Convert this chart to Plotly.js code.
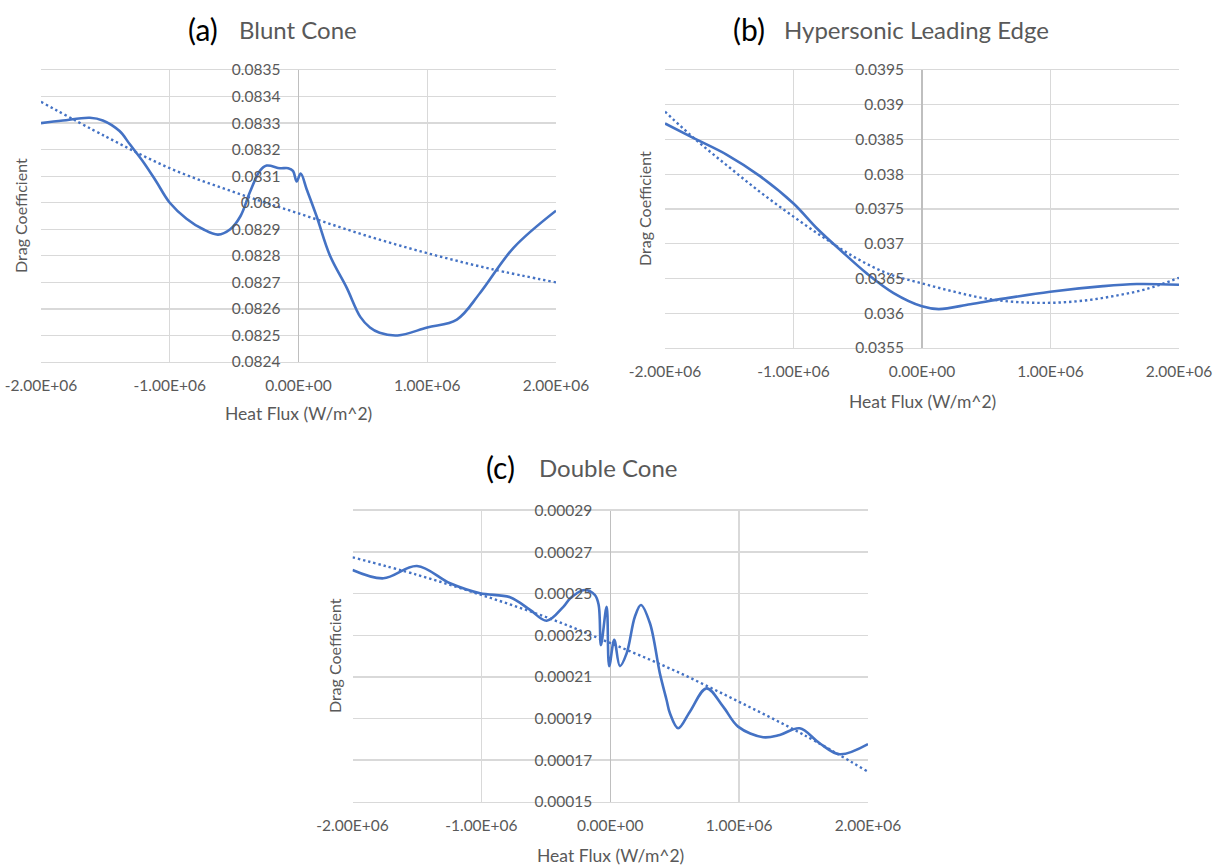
<!DOCTYPE html>
<html>
<head>
<meta charset="utf-8">
<script src="https://cdn.plot.ly/plotly-3.0.1.min.js"></script>
<style>
  html, body { margin: 0; padding: 0; background: #ffffff; }
  #chart { width: 1221px; height: 865px; }
</style>
</head>
<body>
<div id="chart"></div>
<script>
// Heat flux axis (W/m^2), shared by the three panels
const fluxTicks = [-2e6, -1e6, 0, 1e6, 2e6];
const fluxTickText = ['-2.00E+06', '-1.00E+06', '0.00E+00', '1.00E+06', '2.00E+06'];

// (a) Blunt cone: drag coefficient vs wall heat flux
const bluntFlux = [-2.0e6, -1.83e6, -1.62e6, -1.52e6, -1.39e6, -1.31e6, -1.2e6, -1.105e6, -1.0e6,
  -0.87e6, -0.74e6, -0.625e6, -0.53e6, -0.45e6, -0.377e6, -0.3e6, -0.247e6, -0.144e6, -0.08e6,
  -0.043e6, -0.014e6, 0.017e6, 0.064e6, 0.14e6, 0.245e6, 0.374e6, 0.48e6, 0.555e6, 0.63e6,
  0.77e6, 1.0e6, 1.23e6, 1.41e6, 1.67e6, 2.0e6];
const bluntCd = [0.08330, 0.08331, 0.08332, 0.08331, 0.08327, 0.08322, 0.08315, 0.08308, 0.08300,
  0.08294, 0.08290, 0.08288, 0.08290, 0.08295, 0.08304, 0.08312, 0.08314, 0.08313, 0.08313,
  0.08312, 0.08308, 0.08311, 0.08305, 0.08295, 0.08280, 0.08268, 0.08257, 0.08253, 0.08251,
  0.08250, 0.08253, 0.08256, 0.08266, 0.08283, 0.08297];
const bluntTrendFlux = [-2.0e6, -1.5e6, -1.0e6, -0.5e6, 0, 0.5e6, 1.0e6, 1.5e6, 2.0e6];
const bluntTrendCd = [0.08338, 0.08325, 0.08313, 0.08304, 0.08296, 0.08288, 0.08281, 0.08275, 0.08270];
const bluntTicks = [0.0824, 0.0825, 0.0826, 0.0827, 0.0828, 0.0829, 0.083, 0.0831, 0.0832, 0.0833, 0.0834, 0.0835];
const bluntTickText = ['0.0824', '0.0825', '0.0826', '0.0827', '0.0828', '0.0829', '0.083', '0.0831', '0.0832', '0.0833', '0.0834', '0.0835'];

// (b) Hypersonic leading edge
const edgeFlux = [-2.0e6, -1.777e6, -1.518e6, -1.258e6, -1.0e6, -0.817e6, -0.636e6, -0.428e6,
  -0.221e6, 0, 0.13e6, 0.376e6, 0.635e6, 0.998e6, 1.41e6, 1.67e6, 2.0e6];
const edgeCd = [0.03873, 0.03852, 0.03828, 0.03797, 0.03758, 0.03722, 0.03691, 0.03657,
  0.03629, 0.03610, 0.03606, 0.03613, 0.03621, 0.03631, 0.03639, 0.03642, 0.03641];
const edgeTrendFlux = [-2.0e6, -1.75e6, -1.5e6, -1.25e6, -1.0e6, -0.75e6, -0.5e6, -0.25e6, 0,
  0.25e6, 0.5e6, 0.75e6, 1.0e6, 1.25e6, 1.5e6, 1.75e6, 2.0e6];
const edgeTrendCd = [0.03890, 0.03848, 0.03810, 0.03773, 0.03739, 0.03707, 0.03678, 0.03656, 0.03643,
  0.03631, 0.03621, 0.03616, 0.03615, 0.03618, 0.03625, 0.03635, 0.03651];
const edgeTicks = [0.0355, 0.036, 0.0365, 0.037, 0.0375, 0.038, 0.0385, 0.039, 0.0395];
const edgeTickText = ['0.0355', '0.036', '0.0365', '0.037', '0.0375', '0.038', '0.0385', '0.039', '0.0395'];

// (c) Double cone
const doubleFlux = [-2.0e6, -1.76e6, -1.5e6, -1.243e6, -1.01e6, -0.778e6, -0.622e6, -0.493e6,
  -0.364e6, -0.31e6, -0.2e6, -0.12e6, -0.09e6, -0.072e6, -0.028e6, -0.008e6, 0.031e6, 0.075e6,
  0.127e6, 0.191e6, 0.238e6, 0.308e6, 0.385e6, 0.437e6, 0.463e6, 0.527e6, 0.618e6, 0.747e6,
  0.876e6, 0.992e6, 1.186e6, 1.315e6, 1.47e6, 1.625e6, 1.78e6, 2.0e6];
const doubleCd = [0.0002614, 0.0002574, 0.0002633, 0.0002550, 0.0002502, 0.0002483, 0.0002422, 0.0002370,
  0.0002437, 0.0002478, 0.0002518, 0.0002494, 0.0002446, 0.0002253, 0.0002437, 0.0002152, 0.0002278, 0.0002152,
  0.0002213, 0.0002389, 0.0002446, 0.0002358, 0.0002117, 0.0001989, 0.0001925, 0.0001853, 0.0001933, 0.0002045,
  0.0001957, 0.0001861, 0.0001810, 0.0001821, 0.0001853, 0.0001781, 0.0001728, 0.0001777];
const doubleTrendFlux = [-2.0e6, -1.5e6, -1.0e6, -0.5e6, 0, 0.5e6, 1.0e6, 1.5e6, 2.0e6];
const doubleTrendCd = [0.0002675, 0.0002591, 0.0002494, 0.0002388, 0.0002263, 0.0002130, 0.0001980, 0.0001822, 0.0001644];
const doubleTicks = [0.00015, 0.00017, 0.00019, 0.00021, 0.00023, 0.00025, 0.00027, 0.00029];
const doubleTickText = ['0.00015', '0.00017', '0.00019', '0.00021', '0.00023', '0.00025', '0.00027', '0.00029'];

// ---- page geometry (pixels in the 1221 x 865 page) ----
const W = 1221, H = 865;
const BLUE = '#4472C4';
const GRID = '#d9d9d9';
const TEXT = '#595959';
const FONT = 'Lato, "Open Sans", sans-serif';

const panels = [
  { box: [41, 556, 70, 362], yRange: [0.0824, 0.0835], yTicks: bluntTicks, yText: bluntTickText,
    flux: bluntFlux, cd: bluntCd, tFlux: bluntTrendFlux, tCd: bluntTrendCd,
    tag: '(a)', name: 'Blunt Cone', tagX: 186, nameX: 237, titleY: 29,
    xTitleY: 413, yTitleX: 20 },
  { box: [665, 1179, 70, 348], yRange: [0.0355, 0.0395], yTicks: edgeTicks, yText: edgeTickText,
    flux: edgeFlux, cd: edgeCd, tFlux: edgeTrendFlux, tCd: edgeTrendCd,
    tag: '(b)', name: 'Hypersonic Leading Edge', tagX: 731, nameX: 782, titleY: 29,
    xTitleY: 401, yTitleX: 645 },
  { box: [352.5, 868, 510.5, 801.7], yRange: [0.00015, 0.00029], yTicks: doubleTicks, yText: doubleTickText,
    flux: doubleFlux, cd: doubleCd, tFlux: doubleTrendFlux, tCd: doubleTrendCd,
    tag: '(c)', name: 'Double Cone', tagX: 484, nameX: 537, titleY: 467,
    xTitleY: 855, yTitleX: 334 }
];

const px = x => x / W;
const py = y => 1 - y / H;

const traces = [];
const layout = {
  width: W, height: H,
  margin: { l: 0, r: 0, t: 0, b: 0 },
  paper_bgcolor: '#ffffff',
  plot_bgcolor: '#ffffff',
  showlegend: false,
  font: { family: FONT, color: TEXT },
  annotations: []
};

panels.forEach((p, i) => {
  const n = i === 0 ? '' : String(i + 1);
  const [x0, x1, y0, y1] = p.box;
  const xd = [px(x0), px(x1)];
  const yd = [py(y1), py(y0)];

  // polynomial trend (dotted) under the measured curve (solid)
  traces.push({
    x: p.tFlux, y: p.tCd, xaxis: 'x' + n, yaxis: 'y' + n,
    type: 'scatter', mode: 'lines', hoverinfo: 'skip',
    line: { color: BLUE, width: 2.4, dash: '2.4px,2.9px', shape: 'spline', smoothing: 1 }
  });
  traces.push({
    x: p.flux, y: p.cd, xaxis: 'x' + n, yaxis: 'y' + n,
    type: 'scatter', mode: 'lines', hoverinfo: 'skip',
    line: { color: BLUE, width: 2.6, shape: 'spline', smoothing: 1 }
  });

  layout['xaxis' + n] = {
    domain: xd, anchor: 'y' + n, range: [-2e6, 2e6],
    tickmode: 'array', tickvals: fluxTicks, ticktext: fluxTickText,
    showgrid: true, gridcolor: GRID, gridwidth: 1.3,
    zeroline: true, zerolinecolor: '#bfbfbf', zerolinewidth: 1.3,
    showline: true, linecolor: GRID, linewidth: 1.3, mirror: true,
    ticks: 'outside', ticklen: 9, tickcolor: 'rgba(0,0,0,0)',
    tickfont: { family: FONT, size: 15.5, color: TEXT },
    fixedrange: true
  };
  // value axis sits on the zero-flux line
  layout['yaxis' + n] = {
    domain: yd, anchor: 'free', position: px((x0 + x1) / 2), range: p.yRange,
    tickmode: 'array', tickvals: p.yTicks, ticktext: p.yText,
    showgrid: true, gridcolor: GRID, gridwidth: 1.3,
    zeroline: false, showline: false,
    ticks: 'outside', ticklen: 15, tickcolor: 'rgba(0,0,0,0)',
    tickfont: { family: FONT, size: 15.5, color: TEXT },
    fixedrange: true
  };

  // panel heading: black tag followed by grey name
  layout.annotations.push({
    xref: 'paper', yref: 'paper', x: px(p.tagX), y: py(p.titleY),
    xanchor: 'left', yanchor: 'middle', showarrow: false,
    text: p.tag, font: { family: FONT, size: 30, color: '#000000' }
  });
  layout.annotations.push({
    xref: 'paper', yref: 'paper', x: px(p.nameX), y: py(p.titleY),
    xanchor: 'left', yanchor: 'middle', showarrow: false,
    text: p.name, font: { family: FONT, size: 24, color: TEXT }
  });
  // axis titles
  layout.annotations.push({
    xref: 'paper', yref: 'paper', x: px((x0 + x1) / 2), y: py(p.xTitleY),
    xanchor: 'center', yanchor: 'middle', showarrow: false,
    text: 'Heat Flux (W/m^2)', font: { family: FONT, size: 17.5, color: TEXT }
  });
  layout.annotations.push({
    xref: 'paper', yref: 'paper', x: px(p.yTitleX), y: py((y0 + y1) / 2),
    xanchor: 'center', yanchor: 'middle', showarrow: false, textangle: -90,
    text: 'Drag Coefficient', font: { family: FONT, size: 16, color: TEXT }
  });
});

Plotly.newPlot('chart', traces, layout, { staticPlot: true, displayModeBar: false });
</script>
</body>
</html>
